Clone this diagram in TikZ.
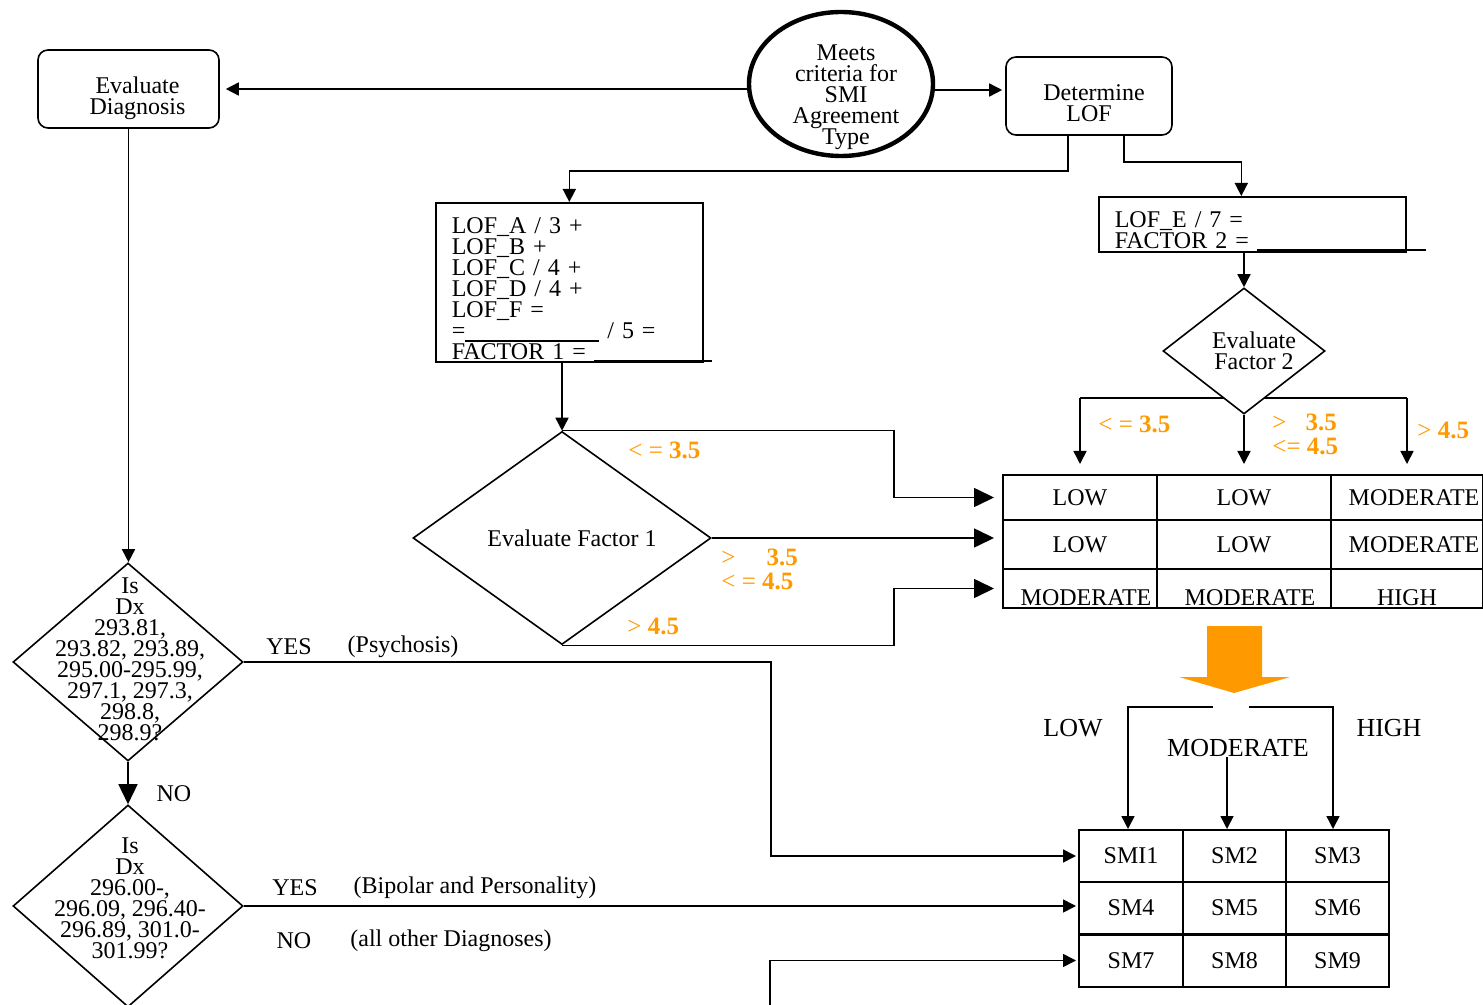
\documentclass[tikz,border=0pt]{standalone}
\usepackage{fontspec}
\setmainfont{Liberation Serif}
\usetikzlibrary{shapes.geometric, arrows.meta, positioning, calc}
\definecolor{cutorange}{RGB}{255,153,0}
\newcommand{\chartfont}{\fontsize{12}{10.5}\selectfont\lineskiplimit -20pt\lineskip 0pt\relax}
\newcommand{\chartbigfont}{\fontsize{13}{12}\selectfont}
\newcommand{\cutfont}{\fontsize{12.5}{12}\selectfont}
\newcommand{\blank}[1]{\rlap{\rule[-1pt]{#1}{0.6pt}}}

\begin{document}
\begin{tikzpicture}[
        x=0.5pt, y=-0.5pt,
        >={Triangle[length=6.5pt, width=6.5pt]},
        every node/.style={font=\chartfont},
        line/.style={line width=0.8pt},
        arr/.style={->, line width=0.8pt},
        bigarr/.style={-{Triangle[length=10pt, width=9.5pt]}, line width=0.8pt},
        roundbox/.style={draw, line width=0.8pt, rounded corners=5pt, align=center, inner sep=0pt, minimum height=39pt, text height=25.4pt, text depth=0pt},
        calcbox/.style={draw, line width=0.8pt, align=left, anchor=north west, inner xsep=8pt, inner ysep=0pt},
        startoval/.style={ellipse, draw, line width=2.2pt, inner sep=0pt, minimum width=92pt, minimum height=72pt},
        decision/.style={diamond, draw, line width=0.8pt, inner sep=0pt, aspect=1.4, align=center},
        cell/.style={draw, line width=1pt, inner sep=0pt},
        lowtext/.style={text height=17.4pt, text depth=0pt},
        lbl/.style={align=center, inner sep=0pt},
        biglbl/.style={inner sep=0pt, font=\chartbigfont},
        cutoff/.style={text=cutorange, align=left, inner sep=0pt, anchor=west, font=\cutfont}
    ]

    \useasboundingbox (0,0) rectangle (1483,1005);

    % top row
    \node[roundbox, minimum width=90.5pt] (ed) at (128.5,89) {\hspace*{9pt}Evaluate\\\hspace*{9pt}Diagnosis};
    \node[startoval] (smi) at (841,84) {};
    \node[lbl] (smitext) at (846,97) {Meets\\criteria for\\SMI\\Agreement\\Type};
    \node[roundbox, minimum width=83pt] (lof) at (1089,96) {\hspace*{5pt}Determine\\LOF};

    \draw[arr, shorten >=3pt] (smi.west |- ed.east) -- (ed.east);
    \draw[arr, shorten >=1.5pt] ([yshift=-3pt]smi.east) -- ([yshift=-3pt]smi.east -| lof.west);

    % factor boxes
    \node[calcbox, text width=117.5pt, text height=15.4pt, text depth=64.3pt] (fac1) at (435,202)
        {LOF\_A / 3 +\\LOF\_B +\\LOF\_C / 4 +\\LOF\_D / 4 +\\LOF\_F =\\=\rule[-1.5pt]{67pt}{0.6pt} / 5 =\\FACTOR 1 = \blank{59pt}};
    \node[calcbox, text width=137.5pt, text height=15.4pt, text depth=12.1pt] (fac2) at (1098,196)
        {LOF\_E / 7 =\\FACTOR 2 = \blank{84.5pt}};

    \draw[arr] ([xshift=-10.5pt]lof.south) -- ++(0,35) -| (fac1.north);
    \draw[arr] ([xshift=17.5pt]lof.south) -- ++(0,26) -| ([xshift=-5.5pt]fac2.north);

    % LOF grid
    \node[cell, minimum width=77pt, minimum height=22.5pt] (c11) at (1080,497.5) {LOW};
    \node[cell, minimum width=87pt, minimum height=22.5pt] (c12) at (1244,497.5) {LOW};
    \node[cell, minimum width=76pt, minimum height=22.5pt] (c13) at (1407,497.5) {\hspace*{7pt}MODERATE};
    \node[cell, minimum width=77pt, minimum height=24.5pt] (c21) at (1080,544.5) {LOW};
    \node[cell, minimum width=87pt, minimum height=24.5pt] (c22) at (1244,544.5) {LOW};
    \node[cell, minimum width=76pt, minimum height=24.5pt] (c23) at (1407,544.5) {\hspace*{7pt}MODERATE};
    \node[cell, lowtext, minimum width=77pt, minimum height=19.5pt] (c31) at (1080,588.5) {\hspace*{6pt}MODERATE};
    \node[cell, lowtext, minimum width=87pt, minimum height=19.5pt] (c32) at (1244,588.5) {\hspace*{6pt}MODERATE};
    \node[cell, lowtext, minimum width=76pt, minimum height=19.5pt] (c33) at (1407,588.5) {HIGH};

    % factor 1
    \node[decision, minimum width=149pt, minimum height=106.5pt] (f1) at (562,538) {\hspace*{10pt}Evaluate Factor 1};
    \draw[arr] (f1.north |- fac1.south) -- (f1.north);

    \draw[bigarr, shorten >=4pt] (f1.north) -- ++(332,0) |- (c11.west);
    \draw[bigarr, shorten >=4pt] (f1.east) -- (f1.east -| c21.west);
    \draw[bigarr, shorten >=4pt] (f1.south) -- ++(332,0) |- (c31.west);

    \node[cutoff] (f1low) at (628,450) {< = \textbf{3.5}};
    \node[cutoff] (f1mid) at (721,569) {>\hspace{15.5pt}\textbf{3.5}\\< = \textbf{4.5}};
    \node[cutoff] (f1high) at (627,626) {> \textbf{4.5}};

    % factor 2
    \coordinate (f2split) at (1243,398);
    \draw[line] (f2split -| c11.north) -- (f2split -| c13.north);
    \node[decision, fill=white, minimum width=81pt, minimum height=63pt] (f2) at (1244,351) {\hspace*{10pt}Evaluate\\\hspace*{10pt}Factor 2};
    \draw[arr] (f2.north |- fac2.south) -- (f2.north);

    \draw[arr, shorten >=5pt] (f2split -| c11.north) -- (c11.north);
    \draw[arr, shorten >=5pt] (f2.south) -- (f2.south |- c12.north);
    \draw[arr, shorten >=5pt] (f2split -| c13.north) -- (c13.north);

    \node[cutoff] (f2low) at (1098,424) {< = \textbf{3.5}};
    \node[cutoff] (f2mid) at (1272,434) {>\hspace{9.5pt}\textbf{3.5}\\<= \textbf{4.5}};
    \node[cutoff] (f2high) at (1417,430) {> \textbf{4.5}};

    % result arrow
    \fill[cutorange] (1207,626) -- (1262,626) -- (1262,677) -- (1290,677) -- (1234,693) -- (1179,677) -- (1207,677) -- cycle;

    % SM grid
    \node[cell, minimum width=52pt, minimum height=26pt] (sm1) at (1131,856) {SMI1};
    \node[cell, minimum width=51.5pt, minimum height=26pt] (sm2) at (1234.5,856) {SM2};
    \node[cell, minimum width=51.5pt, minimum height=26pt] (sm3) at (1337.5,856) {SM3};
    \node[cell, minimum width=52pt, minimum height=26pt] (sm4) at (1131,908) {SM4};
    \node[cell, minimum width=51.5pt, minimum height=26pt] (sm5) at (1234.5,908) {SM5};
    \node[cell, minimum width=51.5pt, minimum height=26pt] (sm6) at (1337.5,908) {SM6};
    \node[cell, minimum width=52pt, minimum height=26pt] (sm7) at (1131,960.5) {SM7};
    \node[cell, minimum width=51.5pt, minimum height=26pt] (sm8) at (1234.5,960.5) {SM8};
    \node[cell, minimum width=51.5pt, minimum height=26pt] (sm9) at (1337.5,960.5) {SM9};

    \coordinate (lowstart) at (1213,707);
    \coordinate (highstart) at (1249,707);
    \coordinate (modstart) at (1227,757);
    \draw[arr] (lowstart) -- ++(-85,0) coordinate (lowbend) -- (lowbend |- sm1.north);
    \draw[arr] (highstart) -- ++(84,0) coordinate (highbend) -- (highbend |- sm3.north);
    \draw[arr] (modstart) -- (modstart |- sm2.north);

    \node[biglbl] (lowlbl) at (1073,728) {LOW};
    \node[biglbl] (modlbl) at (1238,748) {MODERATE};
    \node[biglbl] (highlbl) at (1389,728) {HIGH};

    % diagnosis
    \node[decision, minimum width=115pt, minimum height=99pt] (d1) at (128,662) {};
    \node[lbl] (d1text) at (130,659) {Is\\Dx\\293.81,\\293.82, 293.89,\\295.00-295.99,\\297.1, 297.3,\\298.8,\\298.9?};
    \node[decision, minimum width=115pt, minimum height=101pt] (d2) at (128,906) {};
    \node[lbl] (d2text) at (130,898) {Is\\Dx\\296.00-,\\296.09, 296.40-\\296.89, 301.0-\\301.99?};

    \draw[arr] (ed.south) -- (ed.south |- d1.north);
    \draw[bigarr] (d1.south) -- (d2.north);
    \draw[arr, shorten >=1pt] (d1.east) -- ++(527,0) |- (sm1.west);
    \draw[arr, shorten >=1pt] (d2.east) -- (d2.east -| sm4.west);
    \coordinate (nostart) at (770,1010);
    \draw[arr, shorten >=1pt] (nostart) |- (sm7.west);

    \node[lbl] (no1) at (174,794) {NO};
    \node[lbl] (yes1) at (289,647) {YES};
    \node[lbl] (psy) at (403,647) {(Psychosis)};
    \node[lbl] (yes2) at (295,888) {YES};
    \node[lbl] (bip) at (475,888) {(Bipolar and Personality)};
    \node[lbl] (no2) at (294,941) {NO};
    \node[lbl] (other) at (451,941) {(all other Diagnoses)};

\end{tikzpicture}
\end{document}
